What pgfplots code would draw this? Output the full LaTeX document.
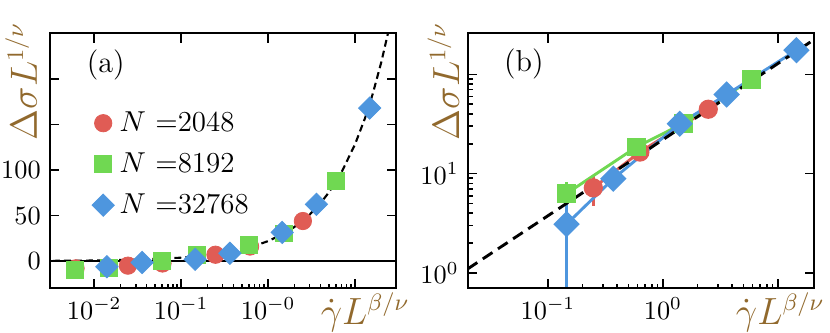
\documentclass[border=0pt]{standalone}
\usepackage{pgfplots}
\pgfplotsset{compat=1.18}

\definecolor{cred}{RGB}{224,92,85}
\definecolor{cgreen}{RGB}{112,216,82}
\definecolor{cblue}{RGB}{78,150,222}
\definecolor{lab}{RGB}{145,105,45}

\pgfplotsset{
  panel/.style={
    width=131.5pt, height=96.9pt, scale only axis,
    tick align=inside, major tick length=3.6pt, minor tick length=1.8pt,
    axis line style={line width=0.75pt},
    every tick/.style={black, line width=0.6pt},
    label style={font=\fontsize{13.5}{16}\selectfont, text=lab, inner sep=0pt},
  },
  frameticks/.style={
    panel, xtick pos=right, ytick pos=right,
    xticklabels={}, yticklabels={}, xminorticks=false, yminorticks=false,
  },
}

\begin{document}
\begin{tikzpicture}
\useasboundingbox (-19pt,-16.6pt) rectangle (296.4pt,109.6pt);

% ---- (a) linear y
\begin{axis}[panel, at={(0pt,0pt)},
  xmode=log, xmin=0.0031, xmax=29.6, ymin=-30, ymax=250,
  xtick={0.01,0.1,1,10}, xticklabels={$10^{-2}$,$10^{-1}$,$10^{-0}$,{}},
  ytick={0,50,100,150,200}, yticklabels={$0$,$50$,$100$,{},{}},
  xtick pos=left, ytick pos=left,
  xlabel={$\dot\gamma L^{\beta/\nu}$},
  ylabel={$\Delta\sigma L^{1/\nu}$},
  xlabel style={at={(axis description cs:1.04,-0.141)}, anchor=base east},
  ylabel style={at={(axis description cs:-0.038,1.046)}, anchor=base east},
  legend style={draw=none, fill=none, font=\fontsize{11}{13}\selectfont,
    at={(axis description cs:0.12,0.717)}, anchor=north west,
    inner sep=0pt, row sep=2.6pt},
  legend cell align=left,
]
\addplot[black, line width=0.5pt, forget plot] coordinates {(0.001,0) (100,0)};

\addplot[only marks, mark=*, mark size=3.3pt,
  mark options={fill=cred, draw=cred, line width=0.3pt}] coordinates {
  (0.0061,-8) (0.0244,-5) (0.061,-2.6) (0.248,7) (0.62,16) (2.51,44)
};
\addlegendentry{$N$ $=$2048}
\addplot[only marks, mark=square*, mark size=3.2pt,
  mark options={fill=cgreen, draw=cgreen, line width=0.3pt}] coordinates {
  (0.0060,-10) (0.0147,-7.3) (0.0605,0.4) (0.15,7) (0.60,17.6) (1.51,30.5) (6.0,88)
};
\addlegendentry{$N$ $=$8192}
\addplot[only marks, mark=square*, mark size=3.0pt,
  mark options={rotate=45, fill=cblue, draw=cblue, line width=0.3pt}] coordinates {
  (0.0140,-6.2) (0.0355,-1.5) (0.145,2) (0.363,8.6) (1.45,31.5) (3.59,62.3) (14.7,168)
};
\addlegendentry{$N$ $=$32768}

% fitted power law
\addplot[black, line width=0.8pt, dash pattern=on 2.6pt off 1.6pt, forget plot] coordinates {
  (0.0025,0.22) (0.01,0.65) (0.03,1.50) (0.1,3.77) (0.2,6.41) (0.3,8.75)
  (0.5,12.9) (0.7,16.7) (1,22.0) (1.5,30.0) (2,37.4) (3,51.0) (4,63.6)
  (5,75.5) (7,97.7) (10,128.4) (13,156.9) (16,184.0) (20,218.3) (24,251) (26,267)
};
\node[font=\fontsize{11.5}{14}\selectfont] at (axis description cs:0.161,0.876) {(a)};
\end{axis}
\begin{axis}[frameticks, at={(0pt,0pt)},
  xmode=log, xmin=0.0031, xmax=29.6, ymin=-30, ymax=250,
  xtick={0.01,0.1,1,10}, ytick={0,50,100,150,200}]
\end{axis}

% ---- (b) log-log
\begin{axis}[panel, at={(158.8pt,0pt)},
  xmode=log, ymode=log, xmin=0.0201, xmax=20.6, ymin=0.70, ymax=258,
  xtick={0.1,1,10}, xticklabels={$10^{-1}$,$10^{0}$,{}},
  ytick={1,10,100}, yticklabels={$10^{0}$,$10^{1}$,{}},
  xtick pos=left, ytick pos=left,
  xlabel={$\dot\gamma L^{\beta/\nu}$},
  ylabel={$\Delta\sigma L^{1/\nu}$},
  xlabel style={at={(axis description cs:1.032,-0.141)}, anchor=base east},
  ylabel style={at={(axis description cs:-0.025,1.046)}, anchor=base east},
]
\addplot[cred, line width=1.1pt, mark=*, mark size=3.1pt,
  mark options={solid, fill=cred, draw=cred},
  error bars/.cd, y dir=both, y explicit, error mark=none,
  error bar style={cred, line width=1.1pt}] coordinates {
  (0.248,7.2) +- (0,2.5)
  (0.63,16.5) +- (0,1.5)
  (2.48,44.5) +- (0,3)
};
\addplot[cgreen, line width=1.1pt, mark=square*, mark size=3.0pt,
  mark options={solid, fill=cgreen, draw=cgreen},
  error bars/.cd, y dir=both, y explicit, error mark=none,
  error bar style={cgreen, line width=1.1pt}] coordinates {
  (0.145,6.3) +- (0,2)
  (0.59,18.6) +- (0,1.5)
  (1.5,32) +- (0,2)
  (5.9,89) +- (0,4)
};
\addplot[cblue, line width=1.1pt, mark=square*, mark size=3.0pt,
  mark options={solid, rotate=45, fill=cblue, draw=cblue},
  error bars/.cd, y dir=both, y explicit, error mark=none,
  error bar style={cblue, line width=1.1pt}] coordinates {
  (0.145,3.1) +- (0,2.6)
  (0.37,8.9) +- (0,2)
  (1.4,31.8) +- (0,2)
  (3.58,62.6) +- (0,3)
  (14.5,175) +- (0,8)
};
\addplot[black, line width=1.1pt, dash pattern=on 4.4pt off 2.5pt] coordinates {
  (0.02,1.10) (21,226.6)
};
\node[font=\fontsize{11.5}{14}\selectfont] at (axis description cs:0.162,0.88) {(b)};
\end{axis}
\begin{axis}[frameticks, at={(158.8pt,0pt)},
  xmode=log, ymode=log, xmin=0.0201, xmax=20.6, ymin=0.70, ymax=258,
  xtick={0.1,1,10}, ytick={1,10,100}]
\end{axis}
\end{tikzpicture}
\end{document}
